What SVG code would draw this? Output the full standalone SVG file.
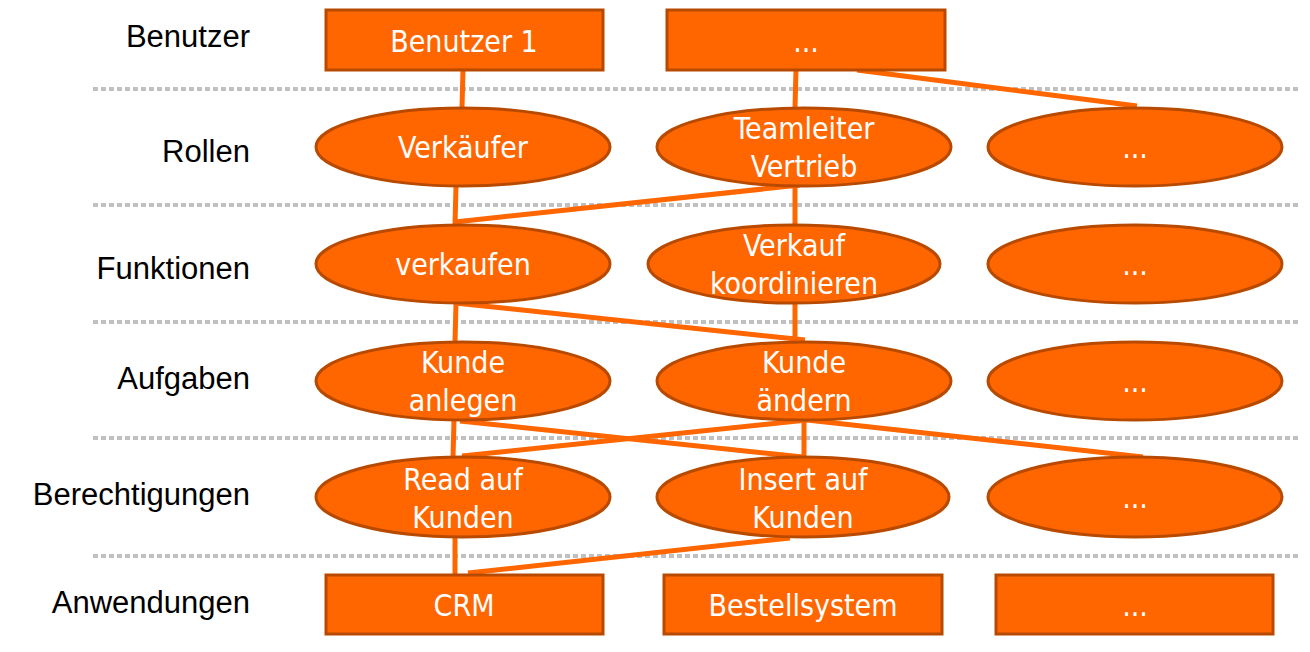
<svg xmlns="http://www.w3.org/2000/svg" width="1310" height="652" viewBox="0 0 1310 652">
<style>
.sep{stroke:#c0c0c0;stroke-width:4;stroke-dasharray:5 3;fill:none}
.lab{font-family:"Liberation Sans",Arial,sans-serif;font-size:31px;fill:#000;text-anchor:end}
.n{fill:#ff6600;stroke:#b84a00;stroke-width:3}
.t{font-family:"DejaVu Sans Condensed","DejaVu Sans",sans-serif;font-stretch:condensed;font-size:30px;fill:#fff;text-anchor:middle}
.c{stroke:#ff6600;stroke-width:5;fill:none}
</style>
<rect width="1310" height="652" fill="#fff"/>
<g id="separators">
<line class="sep" x1="93" y1="89" x2="1300" y2="89"/>
<line class="sep" x1="93" y1="205" x2="1300" y2="205"/>
<line class="sep" x1="93" y1="322" x2="1300" y2="322"/>
<line class="sep" x1="93" y1="438" x2="1300" y2="438"/>
<line class="sep" x1="93" y1="556" x2="1300" y2="556"/>
</g>
<g id="labels">
<text class="lab" x="250" y="47">Benutzer</text>
<text class="lab" x="250" y="162">Rollen</text>
<text class="lab" x="250" y="279">Funktionen</text>
<text class="lab" x="250" y="389">Aufgaben</text>
<text class="lab" x="250" y="505">Berechtigungen</text>
<text class="lab" x="250" y="613">Anwendungen</text>
</g>
<g id="connectors">
<line class="c" x1="463" y1="70" x2="462" y2="108"/>
<line class="c" x1="796" y1="70" x2="795" y2="108"/>
<line class="c" x1="857" y1="70" x2="1137" y2="106"/>
<line class="c" x1="456" y1="186" x2="455" y2="225"/>
<line class="c" x1="800" y1="185" x2="455" y2="222"/>
<line class="c" x1="795" y1="186" x2="795" y2="225"/>
<line class="c" x1="456" y1="303" x2="455" y2="342"/>
<line class="c" x1="455" y1="303" x2="805" y2="340"/>
<line class="c" x1="795" y1="303" x2="795" y2="341"/>
<line class="c" x1="454" y1="420" x2="453" y2="458"/>
<line class="c" x1="460" y1="421" x2="803" y2="457"/>
<line class="c" x1="807" y1="420" x2="462" y2="456"/>
<line class="c" x1="804" y1="420" x2="804" y2="458"/>
<line class="c" x1="807" y1="420" x2="1143" y2="457"/>
<line class="c" x1="455" y1="536" x2="455" y2="574"/>
<line class="c" x1="790" y1="538" x2="468" y2="573"/>
</g>
<g id="n-benutzer1"><rect class="n" x="326" y="10" width="277" height="60"/><text class="t" x="464" y="52">Benutzer 1</text></g>
<g id="n-benutzer-more"><rect class="n" x="667" y="10" width="278" height="60"/><text class="t" x="806" y="52">...</text></g>
<g id="n-verkaeufer"><ellipse class="n" cx="463" cy="147" rx="147" ry="39"/><text class="t" x="463" y="158">Verkäufer</text></g>
<g id="n-teamleiter"><ellipse class="n" cx="804" cy="147" rx="147" ry="39"/><text class="t" x="804" y="139">Teamleiter</text><text class="t" x="804" y="177">Vertrieb</text></g>
<g id="n-rollen-more"><ellipse class="n" cx="1135" cy="147" rx="147" ry="39"/><text class="t" x="1135" y="158">...</text></g>
<g id="n-verkaufen"><ellipse class="n" cx="463" cy="264" rx="147" ry="39"/><text class="t" x="463" y="275">verkaufen</text></g>
<g id="n-verkauf-koord"><ellipse class="n" cx="794" cy="264" rx="146" ry="39"/><text class="t" x="794" y="256">Verkauf</text><text class="t" x="794" y="294">koordinieren</text></g>
<g id="n-funktionen-more"><ellipse class="n" cx="1135" cy="264" rx="147" ry="39"/><text class="t" x="1135" y="275">...</text></g>
<g id="n-kunde-anlegen"><ellipse class="n" cx="463" cy="381" rx="147" ry="39"/><text class="t" x="463" y="373">Kunde</text><text class="t" x="463" y="411">anlegen</text></g>
<g id="n-kunde-aendern"><ellipse class="n" cx="804" cy="381" rx="147" ry="39"/><text class="t" x="804" y="373">Kunde</text><text class="t" x="804" y="411">ändern</text></g>
<g id="n-aufgaben-more"><ellipse class="n" cx="1135" cy="381" rx="147" ry="39"/><text class="t" x="1135" y="392">...</text></g>
<g id="n-read"><ellipse class="n" cx="463" cy="497" rx="147" ry="40"/><text class="t" x="463" y="490">Read auf</text><text class="t" x="463" y="528">Kunden</text></g>
<g id="n-insert"><ellipse class="n" cx="803" cy="497" rx="146" ry="40"/><text class="t" x="803" y="490">Insert auf</text><text class="t" x="803" y="528">Kunden</text></g>
<g id="n-berechtigungen-more"><ellipse class="n" cx="1135" cy="497" rx="147" ry="40"/><text class="t" x="1135" y="508">...</text></g>
<g id="n-crm"><rect class="n" x="326" y="575" width="277" height="59"/><text class="t" x="464" y="616">CRM</text></g>
<g id="n-bestellsystem"><rect class="n" x="664" y="575" width="278" height="59"/><text class="t" x="803" y="616">Bestellsystem</text></g>
<g id="n-anwendungen-more"><rect class="n" x="996" y="575" width="277" height="59"/><text class="t" x="1135" y="616">...</text></g>
</svg>
